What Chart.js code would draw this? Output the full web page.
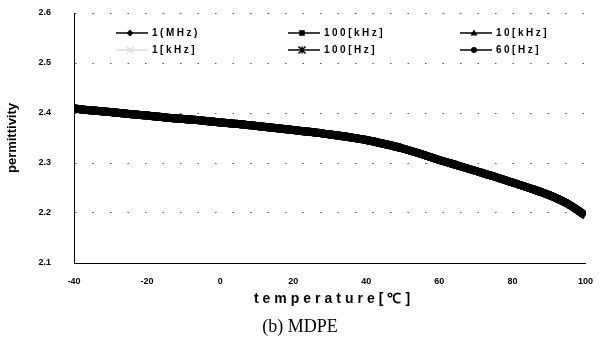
<!DOCTYPE html>
<html>
<head>
<meta charset="utf-8">
<script src="https://cdn.jsdelivr.net/npm/chart.js@4.4.1/dist/chart.umd.min.js"></script>
<style>
    html, body { margin: 0; padding: 0; background: #fff; }
    #chart { display: block; }
</style>
</head>
<body>
<canvas id="chart" width="606" height="345"></canvas>
<script>
// Readings, every 5 degrees. All six frequency curves sit on top of each other.
const temperatures = [-40, -35, -30, -25, -20, -15, -10, -5, 0, 5, 10, 15, 20, 25, 30, 35, 40, 45, 50, 55, 60, 65, 70, 75, 80, 85, 90, 95, 100];
const permittivity = [2.409, 2.405, 2.402, 2.398, 2.395, 2.391, 2.388, 2.385, 2.381, 2.378, 2.374, 2.370, 2.366, 2.362, 2.357, 2.352, 2.346, 2.338, 2.329, 2.318, 2.306, 2.295, 2.284, 2.273, 2.261, 2.249, 2.236, 2.219, 2.195];

const seriesNames = ["1(MHz)", "100[kHz]", "10[kHz]", "1[kHz]", "100[Hz]", "60[Hz]"];
const seriesMarkers = ["diamond", "square", "triangle", "cross", "star", "circle"];
const seriesColors = ["#000", "#000", "#000", "#dcdcdc", "#000", "#000"];

const xTicks = [-40, -20, 0, 20, 40, 60, 80, 100];
const yTicks = [2.1, 2.2, 2.3, 2.4, 2.5, 2.6];

const BOLD_FONT = "'Liberation Sans', Arial, sans-serif";

function drawMarker(ctx, style, x, y, r, color) {
    ctx.save();
    ctx.fillStyle = color;
    ctx.strokeStyle = color;
    ctx.lineWidth = 1.5;
    ctx.beginPath();
    if (style === "diamond") {
        ctx.moveTo(x, y - r); ctx.lineTo(x + r, y); ctx.lineTo(x, y + r); ctx.lineTo(x - r, y);
        ctx.closePath(); ctx.fill();
    } else if (style === "square") {
        ctx.rect(x - r * 0.8, y - r * 0.8, r * 1.6, r * 1.6); ctx.fill();
    } else if (style === "triangle") {
        ctx.moveTo(x, y - r); ctx.lineTo(x + r, y + r * 0.7); ctx.lineTo(x - r, y + r * 0.7);
        ctx.closePath(); ctx.fill();
    } else if (style === "circle") {
        ctx.arc(x, y, r * 0.85, 0, Math.PI * 2); ctx.fill();
    } else if (style === "star") {
        ctx.moveTo(x - r, y - r); ctx.lineTo(x + r, y + r);
        ctx.moveTo(x - r, y + r); ctx.lineTo(x + r, y - r);
        ctx.moveTo(x, y - r); ctx.lineTo(x, y + r);
        ctx.stroke();
    } else if (style === "cross") {
        ctx.moveTo(x - r, y - r); ctx.lineTo(x + r, y + r);
        ctx.moveTo(x - r, y + r); ctx.lineTo(x + r, y - r);
        ctx.stroke();
    }
    ctx.restore();
}

// legend block + x title + caption, drawn after the chart
const extrasPlugin = {
    id: "extras",
    afterDraw(chart) {
        const { ctx, chartArea } = chart;
        ctx.save();
        ctx.textBaseline = "middle";
        ctx.textAlign = "left";

        seriesNames.forEach((name, i) => {
            const col = i % 3;
            const row = Math.floor(i / 3);
            const x0 = chartArea.left + 42 + col * 172;
            const y = chartArea.top + 20 + row * 17;
            const color = seriesColors[i];
            ctx.strokeStyle = color;
            ctx.lineWidth = 1.5;
            ctx.beginPath();
            ctx.moveTo(x0, y);
            ctx.lineTo(x0 + 32, y);
            ctx.stroke();
            drawMarker(ctx, seriesMarkers[i], x0 + 14, y, 3.5, color);
            ctx.fillStyle = "#000";
            ctx.font = `bold 10px ${BOLD_FONT}`;
            ctx.letterSpacing = "2.5px";
            ctx.fillText(name, x0 + 36, y);
        });

        ctx.textAlign = "center";
        ctx.font = `bold 14px ${BOLD_FONT}`;
        ctx.letterSpacing = "4px";
        ctx.fillText("temperature[℃]", 334, chartArea.bottom + 36);

        ctx.letterSpacing = "0px";
        ctx.font = "18px 'Liberation Serif', 'Times New Roman', serif";
        ctx.fillText("(b) MDPE", 300, chartArea.bottom + 64);
        ctx.restore();
    },
};

const datasets = seriesNames.map((name, i) => ({
    label: name,
    data: temperatures.map((t, k) => ({ x: t, y: permittivity[k] })),
    borderColor: seriesColors[i],
    backgroundColor: seriesColors[i],
    borderWidth: i === 3 ? 1 : 8,
    pointRadius: 0,
    cubicInterpolationMode: "monotone",
    order: i === 3 ? 10 : i,
}));

new Chart(document.getElementById("chart"), {
    type: "line",
    data: { datasets },
    options: {
        responsive: false,
        animation: false,
        layout: { padding: { left: 0, right: 8, top: 13, bottom: 0 } },
        plugins: {
            legend: { display: false },
            tooltip: { enabled: false },
        },
        scales: {
            x: {
                type: "linear",
                min: -40,
                max: 100,
                afterBuildTicks: (scale) => { scale.ticks = xTicks.map((v) => ({ value: v })); },
                afterFit: (scale) => { scale.height = 82; },
                ticks: {
                    color: "#000",
                    font: { family: BOLD_FONT, size: 9, weight: "bold" },
                    padding: 13,
                    maxRotation: 0,
                    callback: (v) => String(v),
                },
                grid: { display: false, drawTicks: false },
                border: { display: true, color: "#000", width: 1 },
            },
            y: {
                min: 2.1,
                max: 2.6,
                afterBuildTicks: (scale) => { scale.ticks = yTicks.map((v) => ({ value: v })); },
                afterFit: (scale) => {
                    scale.width = 74;
                    scale.paddingTop = 5;
                    scale.paddingBottom = 5;
                },
                ticks: {
                    color: "#000",
                    font: { family: BOLD_FONT, size: 9, weight: "bold" },
                    padding: 23,
                    callback: (v) => Number(v).toFixed(1),
                },
                grid: { color: "#555", lineWidth: 1, drawTicks: false },
                border: { display: true, color: "#000", width: 1, dash: [1.5, 16] },
                title: {
                    display: true,
                    text: "permittivity",
                    color: "#000",
                    font: { family: BOLD_FONT, size: 13, weight: "bold" },
                    padding: { top: 5, bottom: 0 },
                },
            },
        },
    },
    plugins: [extrasPlugin],
});
</script>
</body>
</html>
